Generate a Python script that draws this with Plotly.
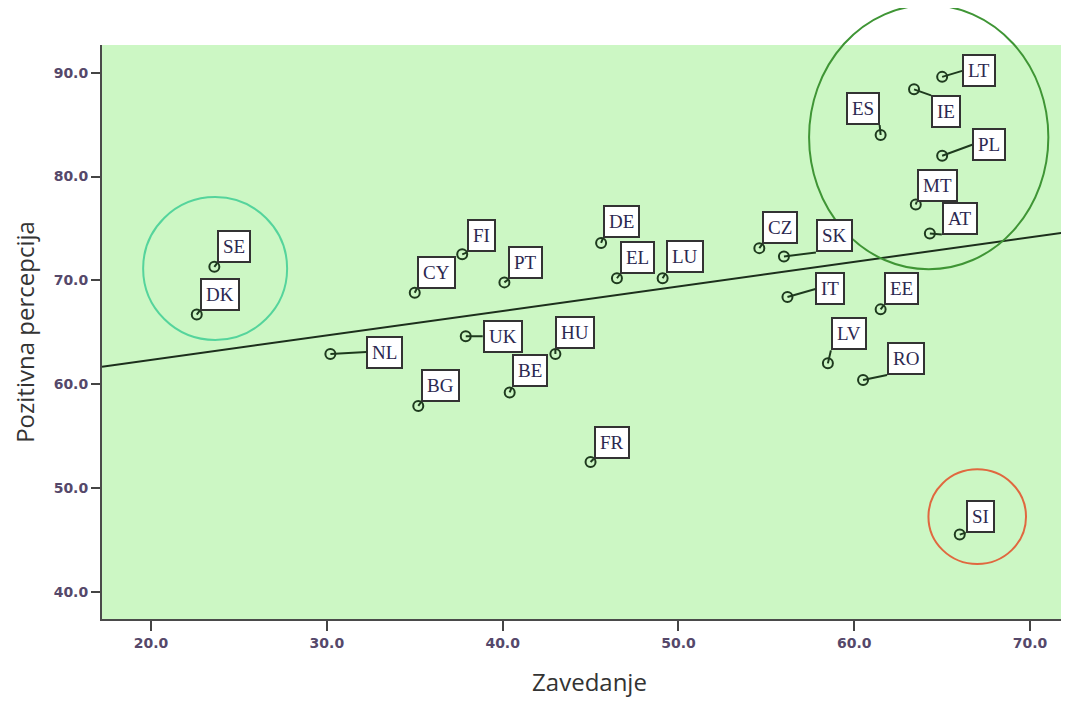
import plotly.graph_objects as go

# ---- data ----
countries = ["SE", "DK", "NL", "BG", "CY", "FI", "UK", "PT", "DE", "EL", "LU", "HU", "BE", "FR",
             "CZ", "SK", "IT", "LV", "RO", "EE", "LT", "IE", "ES", "PL", "MT", "AT", "SI"]
zavedanje = [23.6, 22.6, 30.2, 35.2, 35.0, 37.7, 37.9, 40.1, 45.6, 46.5, 49.1, 43.0, 40.4, 45.0,
             54.6, 56.0, 56.2, 58.5, 60.5, 61.5, 65.0, 63.4, 61.5, 65.0, 63.5, 64.3, 66.0]
pozitivna = [71.3, 66.7, 62.9, 57.9, 68.8, 72.5, 64.6, 69.8, 73.6, 70.2, 70.2, 62.9, 59.2, 52.5,
             73.1, 72.3, 68.4, 62.0, 60.4, 67.2, 89.6, 88.4, 84.0, 82.0, 77.3, 74.5, 45.5]
fit_intercept = 57.6
fit_slope = 0.2363
x_ticks = [20, 30, 40, 50, 60, 70]
y_ticks = [40, 50, 60, 70, 80, 90]

# ---- layout constants ----
XR = [17.21, 72.67]
YR = [37.37, 92.67]

# label placement: (dx px, dy px, xanchor, yanchor)
placement = {
    "SE": (3, -4, "left", "bottom"), "DK": (3, -4, "left", "bottom"),
    "NL": (36, -2, "left", "middle"), "BG": (3, -4, "left", "bottom"),
    "CY": (2, -4, "left", "bottom"), "FI": (5, -2, "left", "bottom"),
    "UK": (17, 0, "left", "middle"), "PT": (4, -3, "left", "bottom"),
    "DE": (2, -5, "left", "bottom"), "EL": (3, -4, "left", "bottom"),
    "LU": (3, -5, "left", "bottom"), "HU": (0, -5, "left", "bottom"),
    "BE": (2, -5, "left", "bottom"), "FR": (3, -3, "left", "bottom"),
    "CZ": (3, -4, "left", "bottom"), "SK": (32, -4, "left", "bottom"),
    "IT": (28, -8, "left", "middle"), "LV": (3, -13, "left", "bottom"),
    "RO": (24, -5, "left", "bottom"), "EE": (3, -4, "left", "bottom"),
    "LT": (20, -6, "left", "middle"), "IE": (17, 6, "left", "top"),
    "ES": (-1, -10, "right", "bottom"), "PL": (30, -11, "left", "middle"),
    "MT": (1, -3, "left", "bottom"), "AT": (12, 1, "left", "bottom"),
    "SI": (6, -2, "left", "bottom"),
}

fig = go.Figure()

fig.add_trace(go.Scatter(
    x=XR, y=[fit_intercept + fit_slope * v for v in XR], mode="lines",
    line=dict(color="#1c2f1c", width=2), hoverinfo="skip", showlegend=False))

fig.add_trace(go.Scatter(
    x=zavedanje, y=pozitivna, mode="markers",
    marker=dict(symbol="circle-open", size=10, color="#1e3a1e", line=dict(width=2)),
    showlegend=False, cliponaxis=False))

for c, xv, yv in zip(countries, zavedanje, pozitivna):
    dx, dy, xa, ya = placement[c]
    fig.add_annotation(
        x=xv, y=yv, text=c, showarrow=True, arrowhead=0, arrowwidth=2,
        arrowcolor="#1e3a1e", ax=dx, ay=dy, xanchor=xa, yanchor=ya,
        bgcolor="white", bordercolor="#333333", borderwidth=2, borderpad=4,
        font=dict(family="Liberation Serif", size=19, color="#2b2850"))


def px(v):
    return (v - XR[0]) / (XR[1] - XR[0])


def py(v):
    return (v - YR[0]) / (YR[1] - YR[0])


# highlight ellipses (data coordinates converted to paper)
ellipses = [
    ((19.55, 27.74), (64.25, 78.02), "#55d49c"),
    ((57.43, 71.04), (71.06, 96.52), "#3f9535"),
    ((64.22, 69.77), (42.67, 51.79), "#e0683f"),
]
for (x0, x1), (y0, y1), col in ellipses:
    fig.add_shape(type="circle", xref="paper", yref="paper",
                  x0=px(x0), x1=px(x1), y0=py(y0), y1=py(y1),
                  line=dict(color=col, width=2), layer="above")

tick_font = dict(family="DejaVu Sans", size=14, color="#55486a", weight="bold")
title_font = dict(family="Open Sans", size=24, color="#333")

fig.update_layout(
    width=1069, height=690,
    margin=dict(l=94, r=0, t=37, b=79),
    paper_bgcolor="white", plot_bgcolor="#ccf7c4",
    xaxis=dict(range=XR, tickvals=x_ticks, ticktext=[f"{v:.1f}" for v in x_ticks],
               automargin=False,
               showgrid=False, zeroline=False, showline=True, linecolor="#4a4a4a",
               linewidth=2, ticks="outside", ticklen=10, tickwidth=2, tickcolor="#444",
               tickfont=tick_font,
               title=dict(text="Zavedanje", standoff=36, font=title_font)),
    yaxis=dict(range=YR, tickvals=y_ticks, ticktext=[f"{v:.1f}" for v in y_ticks],
               automargin=False,
               showgrid=False, zeroline=False, showline=True, linecolor="#4a4a4a",
               linewidth=2, ticks="outside", ticklen=9, tickwidth=2, tickcolor="#444",
               tickfont=tick_font,
               title=dict(text="Pozitivna percepcija", standoff=16, font=title_font)),
)

fig.write_html("out.html")
